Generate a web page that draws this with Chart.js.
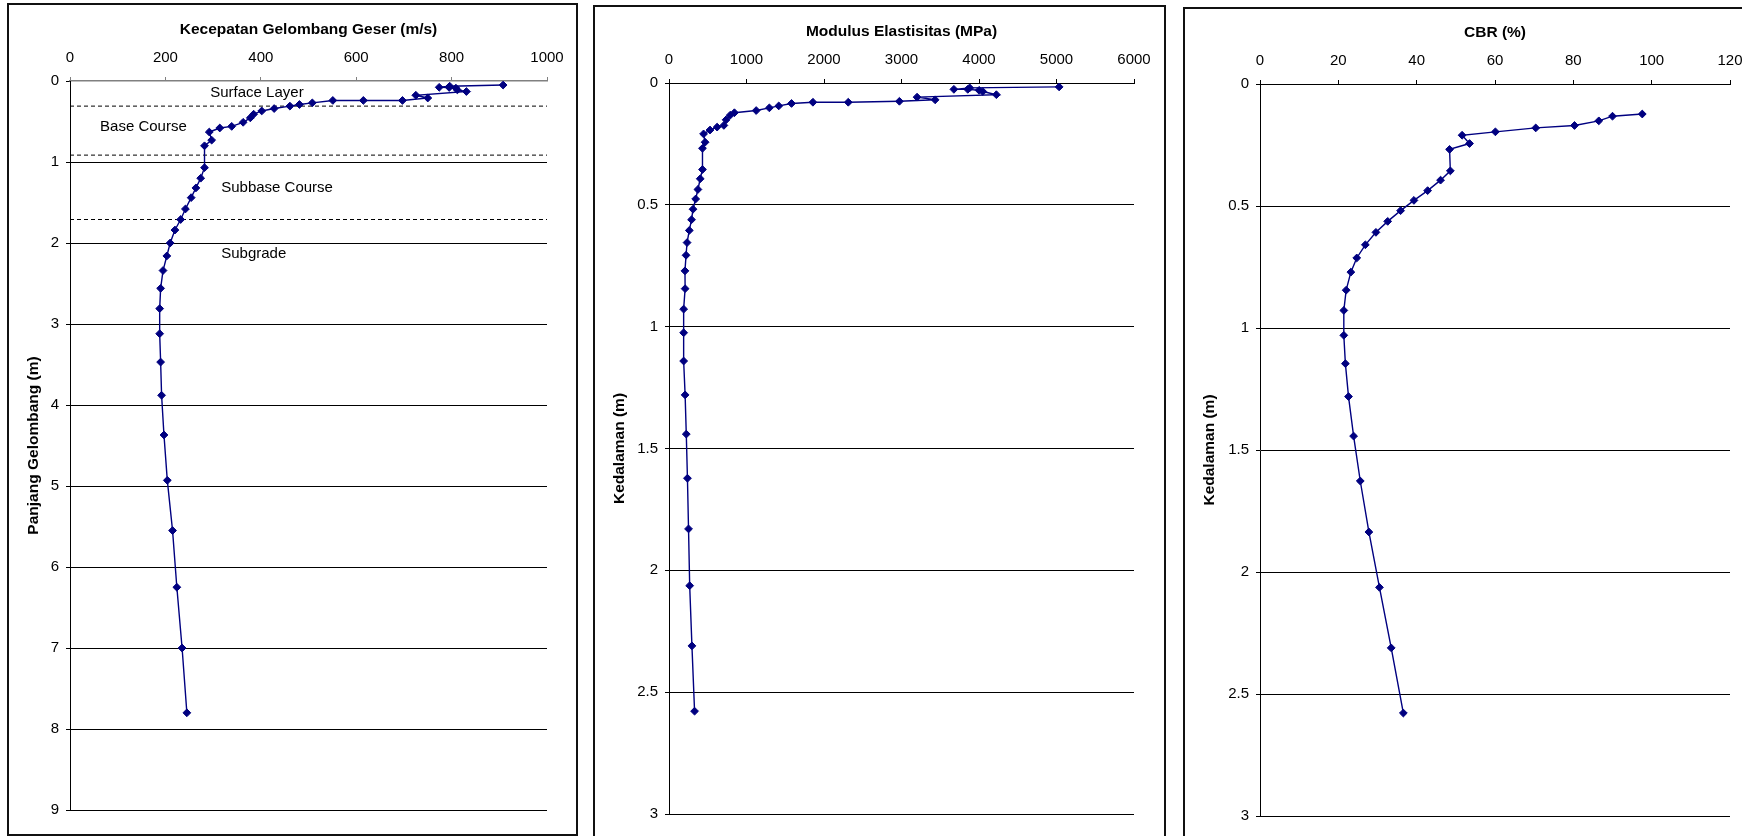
<!DOCTYPE html>
<html>
<head>
<meta charset="utf-8">
<title>Profil Lapisan Perkerasan</title>
<script src="https://cdn.jsdelivr.net/npm/chart.js@4.4.1/dist/chart.umd.min.js"></script>
<style>
  html, body { margin: 0; padding: 0; background: #fff; width: 1742px; height: 836px; overflow: hidden; }
  canvas { position: absolute; }
  .frame { position: absolute; border: 2px solid #111; box-sizing: border-box; pointer-events: none; }
</style>
</head>
<body>
<canvas id="c1"></canvas><div class="frame" id="f1"></div>
<canvas id="c2"></canvas><div class="frame" id="f2"></div>
<canvas id="c3"></canvas><div class="frame" id="f3"></div>
<script>
// Shear-wave velocity (m/s) against wavelength (m)
const waveLength = [0.05, 0.064, 0.078, 0.08, 0.088, 0.11, 0.13, 0.176, 0.21, 0.24, 0.24, 0.24,
  0.27, 0.29, 0.31, 0.34, 0.37, 0.41, 0.455, 0.51, 0.56, 0.58, 0.63, 0.73, 0.80, 1.07, 1.20,
  1.32, 1.44, 1.58, 1.71, 1.84, 2.0, 2.16, 2.34, 2.56, 2.81, 3.12, 3.47, 3.88, 4.37, 4.93,
  5.55, 6.25, 7.0, 7.8];
const shearVelocity = [908, 796, 774, 795, 809, 812, 831, 725, 750, 697, 615, 551,
  508, 481, 461, 428, 402, 385, 378, 363, 339, 314, 292, 297, 282, 282, 274,
  264, 254, 242, 232, 220, 210, 203, 195, 190, 188, 188, 190, 192, 197, 204,
  215, 224, 235, 245];

// Elastic modulus (MPa) against depth (m)
const modulusDepth = [0.016, 0.020, 0.026, 0.026, 0.030, 0.035, 0.048, 0.058, 0.069, 0.075,
  0.079, 0.079, 0.084, 0.094, 0.102, 0.113, 0.122, 0.132, 0.151, 0.174, 0.181, 0.193,
  0.209, 0.243, 0.268, 0.355, 0.393, 0.437, 0.476, 0.518, 0.561, 0.605, 0.655, 0.707,
  0.771, 0.844, 0.928, 1.025, 1.141, 1.28, 1.441, 1.622, 1.83, 2.063, 2.31, 2.578];
const elasticModulus = [5034, 3880, 3676, 3855, 4001, 4049, 4224, 3201, 3434, 2973,
  2313, 1857, 1581, 1416, 1295, 1125, 844, 790, 737, 708, 621, 529,
  446, 466, 432, 432, 403, 373, 344, 310, 291, 262, 233, 220,
  206, 208, 189, 189, 189, 208, 223, 238, 252, 267, 296, 330];

// CBR (%) against depth (m)
const cbrDepth = [0.123, 0.132, 0.151, 0.170, 0.180, 0.196, 0.210, 0.244, 0.268, 0.356,
  0.394, 0.437, 0.477, 0.519, 0.563, 0.608, 0.659, 0.713, 0.771, 0.845, 0.928, 1.03,
  1.146, 1.281, 1.443, 1.627, 1.836, 2.063, 2.311, 2.578];
const cbrValue = [97.6, 90.0, 86.5, 80.3, 70.4, 60.1, 51.6, 53.5, 48.4, 48.6,
  46.1, 42.8, 39.3, 35.9, 32.6, 29.6, 26.9, 24.7, 23.2, 22.0, 21.4, 21.4,
  21.8, 22.6, 23.9, 25.6, 27.8, 30.5, 33.5, 36.6];

// Pavement layer boundaries (wavelength, m) and layer names
const layerBounds = [0.31, 0.915, 1.71];
const layerNames = ['Surface Layer', 'Base Course', 'Subbase Course', 'Subgrade'];

// Axis tick values
const velocityTicks = [0, 200, 400, 600, 800, 1000];
const lengthTicks = [0, 1, 2, 3, 4, 5, 6, 7, 8, 9];
const modulusTicks = [0, 1000, 2000, 3000, 4000, 5000, 6000];
const cbrTicks = [0, 20, 40, 60, 80, 100, 120];
const depthTicks = [0, 0.5, 1, 1.5, 2, 2.5, 3];

// Where each layer name sits, in axis units (velocity, wavelength)
const layerLabelAnchors = [
  { x: 294, y: 0.145 },
  { x: 63, y: 0.56 },
  { x: 317, y: 1.32 },
  { x: 317, y: 2.14 }
];

const FONT = "'Liberation Sans', Arial, sans-serif";
const TITLE_SIZE = 15.5;
const TICK_SIZE = 15;
const NAVY = '#000080';

function profileSeries(xs, ys) {
  return {
    data: xs.map((v, i) => ({ x: v, y: ys[i] })),
    showLine: true,
    borderColor: NAVY,
    borderWidth: 1.4,
    pointStyle: 'rectRot',
    pointRadius: 3.9,
    pointBorderWidth: 1,
    pointBackgroundColor: NAVY,
    pointBorderColor: NAVY,
    tension: 0
  };
}

const layerLabelPlugin = {
  id: 'layerLabels',
  afterDatasetsDraw(chart) {
    const { ctx, scales: { x, y } } = chart;
    ctx.save();
    ctx.font = TICK_SIZE + 'px ' + FONT;
    ctx.fillStyle = '#000';
    ctx.textAlign = 'left';
    ctx.textBaseline = 'middle';
    layerNames.forEach((name, i) => {
      const a = layerLabelAnchors[i];
      ctx.fillText(name, x.getPixelForValue(a.x), y.getPixelForValue(a.y));
    });
    ctx.restore();
  }
};

function buildPanel(cfg) {
  const { box, plot } = cfg;
  const W = box.r - box.l, H = box.b - box.t;
  const cv = document.getElementById(cfg.canvasId);
  cv.width = W; cv.height = H;
  Object.assign(cv.style, { left: box.l + 'px', top: box.t + 'px', width: W + 'px', height: H + 'px' });
  const fr = document.getElementById(cfg.frameId);
  Object.assign(fr.style, { left: box.l + 'px', top: box.t + 'px', width: cfg.frameW + 'px', height: cfg.frameH + 'px' });

  const yW = plot.l - box.l;
  const xH = plot.t - box.t;
  const lh = TITLE_SIZE * 1.2;
  const titleFont = { family: FONT, size: TITLE_SIZE, weight: 'bold' };
  const tickFont = { family: FONT, size: TICK_SIZE };

  return new Chart(cv, {
    type: 'scatter',
    data: { datasets: cfg.datasets },
    options: {
      responsive: false,
      animation: false,
      devicePixelRatio: 1,
      layout: { padding: { left: 0, top: 0, right: box.r - plot.r, bottom: box.b - plot.b } },
      plugins: { legend: { display: false }, tooltip: { enabled: false } },
      scales: {
        x: {
          type: 'linear',
          position: 'top',
          min: cfg.xTicks[0],
          max: cfg.xTicks[cfg.xTicks.length - 1],
          afterBuildTicks: s => { s.ticks = cfg.xTicks.map(v => ({ value: v })); },
          afterFit: s => { s.height = xH; },
          grid: { drawOnChartArea: false, drawTicks: true, tickLength: 4, color: cfg.xAxisColor, lineWidth: 1 },
          border: { display: true, color: cfg.xAxisColor, width: cfg.xAxisWidth },
          ticks: { font: tickFont, color: '#000', padding: 10.5, maxRotation: 0, autoSkip: false, callback: v => String(v) },
          title: { display: true, text: cfg.xTitle, font: titleFont, color: '#000',
                   padding: { top: cfg.titleY - box.t - lh / 2, bottom: 0 } }
        },
        y: {
          type: 'linear',
          position: 'left',
          reverse: true,
          min: cfg.yTicks[0],
          max: cfg.yTicks[cfg.yTicks.length - 1],
          afterBuildTicks: s => { s.ticks = cfg.yTicks.map(v => ({ value: v })); },
          afterFit: s => { s.width = yW; },
          grid: {
            drawOnChartArea: true, drawTicks: true, tickLength: 4, lineWidth: 1,
            color: c => (cfg.hideTopGrid && c.tick && c.tick.value === 0) ? 'rgba(0,0,0,0)' : '#000',
            tickColor: '#000'
          },
          border: { display: true, color: '#000', width: 1 },
          ticks: { font: tickFont, color: '#000', padding: 7, autoSkip: false, callback: v => String(v) },
          title: { display: true, text: cfg.yTitle, font: titleFont, color: '#000',
                   padding: { top: cfg.yTitleX - box.l - lh / 2, bottom: 0 } }
        }
      }
    },
    plugins: cfg.plugins || []
  });
}

// Panel 1: shear-wave velocity with pavement layers
const boundaryLines = layerBounds.map(b => ({
  data: [{ x: velocityTicks[0], y: b }, { x: velocityTicks[velocityTicks.length - 1], y: b }],
  showLine: true,
  borderColor: '#000',
  borderWidth: 1,
  borderDash: [4, 3],
  pointRadius: 0
}));

buildPanel({
  canvasId: 'c1', frameId: 'f1',
  box: { l: 7, t: 3, r: 578, b: 836 }, frameW: 571, frameH: 833,
  plot: { l: 70, t: 81, r: 547, b: 810 },
  titleY: 30, yTitleX: 33.7,
  xTitle: 'Kecepatan Gelombang Geser (m/s)',
  yTitle: 'Panjang Gelombang (m)',
  xTicks: velocityTicks, yTicks: lengthTicks,
  xAxisColor: '#808080', xAxisWidth: 1.5, hideTopGrid: true,
  datasets: [profileSeries(shearVelocity, waveLength)].concat(boundaryLines),
  plugins: [layerLabelPlugin]
});

// Panel 2: elastic modulus
buildPanel({
  canvasId: 'c2', frameId: 'f2',
  box: { l: 593, t: 5, r: 1166, b: 836 }, frameW: 573, frameH: 845,
  plot: { l: 669, t: 83, r: 1134, b: 814 },
  titleY: 31.7, yTitleX: 620,
  xTitle: 'Modulus Elastisitas (MPa)',
  yTitle: 'Kedalaman (m)',
  xTicks: modulusTicks, yTicks: depthTicks,
  xAxisColor: '#000', xAxisWidth: 1, hideTopGrid: false,
  datasets: [profileSeries(elasticModulus, modulusDepth)]
});

// Panel 3: CBR
buildPanel({
  canvasId: 'c3', frameId: 'f3',
  box: { l: 1183, t: 7, r: 1763, b: 836 }, frameW: 580, frameH: 845,
  plot: { l: 1260, t: 84, r: 1730, b: 816 },
  titleY: 32.7, yTitleX: 1209.4,
  xTitle: 'CBR (%)',
  yTitle: 'Kedalaman (m)',
  xTicks: cbrTicks, yTicks: depthTicks,
  xAxisColor: '#000', xAxisWidth: 1, hideTopGrid: false,
  datasets: [profileSeries(cbrValue, cbrDepth)]
});
</script>
</body>
</html>
